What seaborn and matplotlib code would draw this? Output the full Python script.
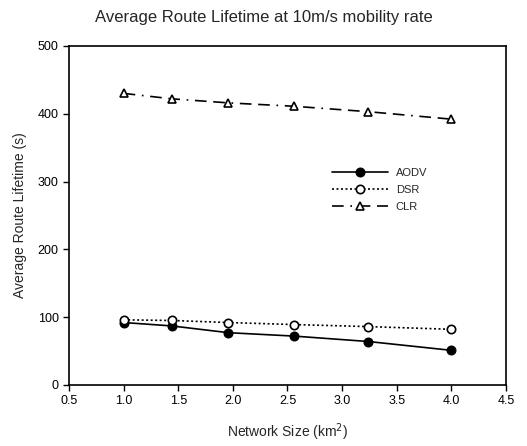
import matplotlib
matplotlib.use("Agg")
import matplotlib.pyplot as plt
import seaborn as sns
import pandas as pd

# network size (km^2) and average route lifetime (s)
network_size = [1.0, 1.44, 1.96, 2.56, 3.24, 4.0]
aodv = [92, 87, 77, 72, 64, 51]
dsr = [96, 95, 92, 89, 86, 82]
clr = [430, 422, 416, 411, 403, 392]

sns.set_style("ticks")
plt.rcParams["font.family"] = ["Liberation Sans", "DejaVu Sans"]

fig = plt.figure(figsize=(5.27, 4.46), dpi=100)
ax = fig.add_axes([0.131, 0.137, 0.829, 0.760])

styles = {
    "AODV": dict(ls="-", marker="o", mfc="black"),
    "DSR": dict(ls=(0, (1.2, 1.5)), marker="o", mfc="white"),
    "CLR": dict(ls=(0, (7, 4, 1, 4, 7, 4)), marker="^", mfc="white"),
}
for name, vals in [("AODV", aodv), ("DSR", dsr), ("CLR", clr)]:
    df = pd.DataFrame({"x": network_size, "y": vals})
    st = styles[name]
    sns.lineplot(data=df, x="x", y="y", ax=ax, color="black", lw=1.2,
                 linestyle=st["ls"], marker=st["marker"], markersize=6,
                 markerfacecolor=st["mfc"], markeredgecolor="black",
                 markeredgewidth=1.2, label=name)

ax.set_xlim(0.5, 4.5)
ax.set_ylim(0, 500)
ax.set_xticks([0.5, 1.0, 1.5, 2.0, 2.5, 3.0, 3.5, 4.0, 4.5])
ax.set_xticklabels(["0.5", "1.0", "1.5", "2.0", "2.5", "3.0", "3.5", "4.0", "4.5"])
ax.set_yticks([0, 100, 200, 300, 400, 500])
ax.tick_params(labelsize=9, length=4, width=1, colors="black")
for sp in ax.spines.values():
    sp.set_color("black")
    sp.set_linewidth(1.2)

ax.set_xlabel("Network Size (km$^2$)", fontsize=10, labelpad=10)
ax.set_ylabel("Average Route Lifetime (s)", fontsize=10, labelpad=8)
fig.suptitle("Average Route Lifetime at 10m/s mobility rate", fontsize=12, y=0.978)

leg = ax.legend(loc="center left", bbox_to_anchor=(0.58, 0.575), frameon=False,
                fontsize=8, handlelength=5, labelspacing=0.62, handletextpad=0.7)

fig.savefig("out.png", dpi=100)
